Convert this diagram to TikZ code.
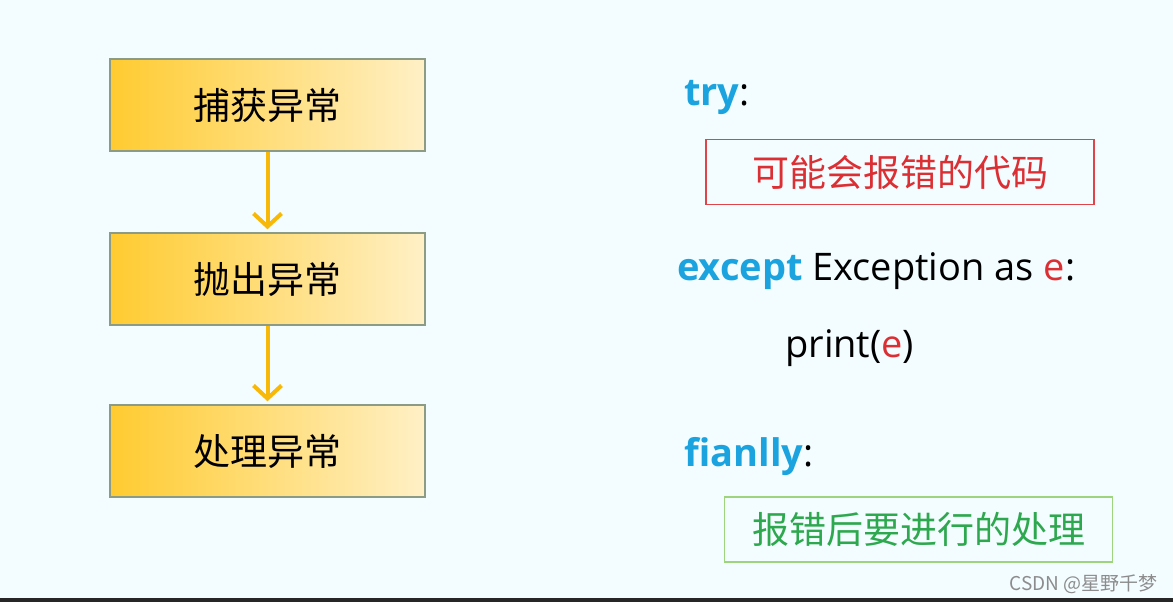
\documentclass[tikz,border=0pt]{standalone}
\usepackage{fontspec}
\setmainfont{Open Sans}
\newfontfamily\cjk{Noto Sans CJK SC}
\usetikzlibrary{arrows.meta,positioning}

\definecolor{bgcyan}{HTML}{F3FDFF}
\definecolor{keyblue}{HTML}{1AA3DF}
\definecolor{errred}{HTML}{DC2F34}
\definecolor{okgreen}{HTML}{2EA84E}
\definecolor{okframe}{HTML}{9DD47C}
\definecolor{boxframe}{HTML}{8C9B86}
\definecolor{arrowgold}{HTML}{F7B808}
\definecolor{boxleft}{HTML}{FFCB30}
\definecolor{boxright}{HTML}{FFF0C6}

\tikzset{
  stagebox/.style={draw=boxframe,line width=1.5pt,left color=boxleft,right color=boxright,
    minimum width=315pt,minimum height=92pt,font=\cjk\fontsize{37}{40}\selectfont},
  flowarrow/.style={arrowgold,line width=4pt,-{Straight Barb[length=13pt,width=28pt,line width=4pt]},shorten >=3pt},
  codeline/.style={anchor=base west,inner sep=0pt,font=\fontsize{38}{40}\selectfont},
  msgbox/.style={draw,line width=1.5pt,minimum width=388pt,minimum height=65pt,font=\cjk\fontsize{37}{40}\selectfont}
}

\begin{document}
\begin{tikzpicture}[x=1pt,y=-1pt]
	\fill[bgcyan] (0,0) rectangle (1173,602);
	\useasboundingbox (0,0) rectangle (1173,602);
	\fill[black!85] (0,598) rectangle (1173,602);
	% left: the three stages
	\node[stagebox] (catch) at (267.5,105) {捕获异常};
	\node[stagebox] (throw) at (267.5,279) {抛出异常};
	\node[stagebox] (handle) at (267.5,451) {处理异常};
	\draw[flowarrow] (catch) -- (throw);
	\draw[flowarrow] (throw) -- (handle);
	% right: the code
	\node[codeline] (try) at (684,105) {\textcolor{keyblue}{\textbf{try}}:};
	\node[msgbox,draw=errred!90,text=errred] (risky) at (900,172) {可能会报错的代码};
	\node[codeline] (except) at (677,280) {\textcolor{keyblue}{\textbf{except}} Exception as \textcolor{errred}{e}:};
	\node[codeline] (print) at (785,357) {print(\textcolor{errred}{e})};
	\node[codeline] (final) at (684,466) {\textcolor{keyblue}{\textbf{fianlly}}:};
	\node[msgbox,draw=okframe,text=okgreen] (after) at (918.5,529.5) {报错后要进行的处理};
	\node[anchor=east,inner sep=0pt,text=black!45,font=\cjk\fontsize{19}{21}\selectfont] (mark) at (1158,584) {CSDN @星野千梦};
\end{tikzpicture}
\end{document}
